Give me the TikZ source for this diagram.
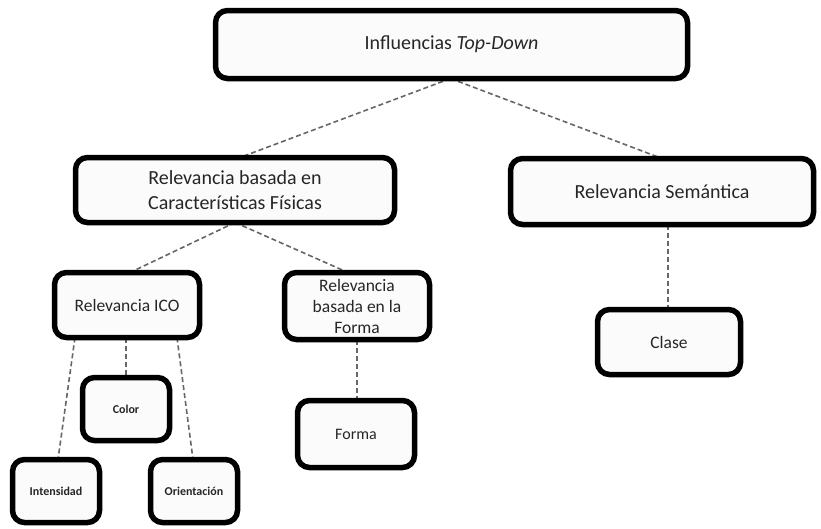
\documentclass[tikz,border=0pt]{standalone}
\usepackage{fontspec}
\setmainfont{Carlito}
\usetikzlibrary{calc,backgrounds}
\definecolor{ink}{HTML}{262626}
\definecolor{linkgray}{HTML}{666666}
\tikzset{
  mapbox/.style={draw=black, line width=5.5pt, rounded corners=12pt, fill=gray!3,
    text=ink, align=center, inner sep=0pt, outer sep=0pt},
  hugetext/.style={font=\fontsize{20}{25}\selectfont},
  bigtext/.style={font=\fontsize{17.5}{21}\selectfont},
  midtext/.style={font=\fontsize{16}{19}\selectfont},
  smalltext/.style={font=\fontsize{12}{14}\selectfont\bfseries},
  link/.style={draw=linkgray, line width=1.6pt, dash pattern=on 5pt off 3pt},
}
\begin{document}
\begin{tikzpicture}[x=1pt,y=-1pt]
\useasboundingbox (0,0) rectangle (821,528);

% level 0
\node[mapbox, hugetext, minimum width=472pt, minimum height=68pt] (top) at (451.5,44.5)
  {Influencias \textit{Top-Down}};

% level 1
\node[mapbox, hugetext, minimum width=319pt, minimum height=65pt] (cf) at (235,190)
  {Relevancia basada en\\Características Físicas};
\node[mapbox, hugetext, minimum width=303pt, minimum height=66pt] (sem) at (662,191.5)
  {Relevancia Semántica};

% level 2
\node[mapbox, bigtext, minimum width=145pt, minimum height=65pt] (ico) at (127,305)
  {Relevancia ICO};
\node[mapbox, bigtext, minimum width=145pt, minimum height=67pt] (rbf) at (357,306)
  {Relevancia\\basada en la\\Forma};
\node[mapbox, bigtext, minimum width=143pt, minimum height=65pt] (clase) at (669,342)
  {Clase};

% level 3
\node[mapbox, smalltext, minimum width=87pt, minimum height=63pt] (color) at (126,409)
  {Color};
\node[mapbox, smalltext, minimum width=87pt, minimum height=63pt] (int) at (56,491)
  {Intensidad};
\node[mapbox, smalltext, minimum width=87pt, minimum height=63pt] (ori) at (194,491)
  {Orientación};
\node[mapbox, midtext, minimum width=117pt, minimum height=67pt] (forma) at (356,434)
  {Forma};

% dashed connectors, kept under the boxes
\begin{scope}[on background layer]
  \draw[link] ([xshift=-1pt]top.south) -- ([xshift=5pt]cf.north);
  \draw[link] ([xshift=-1pt]top.south) -- (sem.north);
  \draw[link] (cf.south) -- ([xshift=3pt]ico.north);
  \draw[link] (cf.south) -- ([xshift=-9pt]rbf.north);
  \draw[link] ([xshift=-52pt]ico.south) -- ([xshift=2pt]int.north);
  \draw[link] ([xshift=-1pt]ico.south) -- (color.north);
  \draw[link] ([xshift=50pt]ico.south) -- ([xshift=-1pt]ori.north);
  \draw[link] (rbf.south) -- ([xshift=1pt]forma.north);
  \draw[link] ([xshift=6pt]sem.south) -- ([xshift=-1pt]clase.north);
\end{scope}
\end{tikzpicture}
\end{document}
